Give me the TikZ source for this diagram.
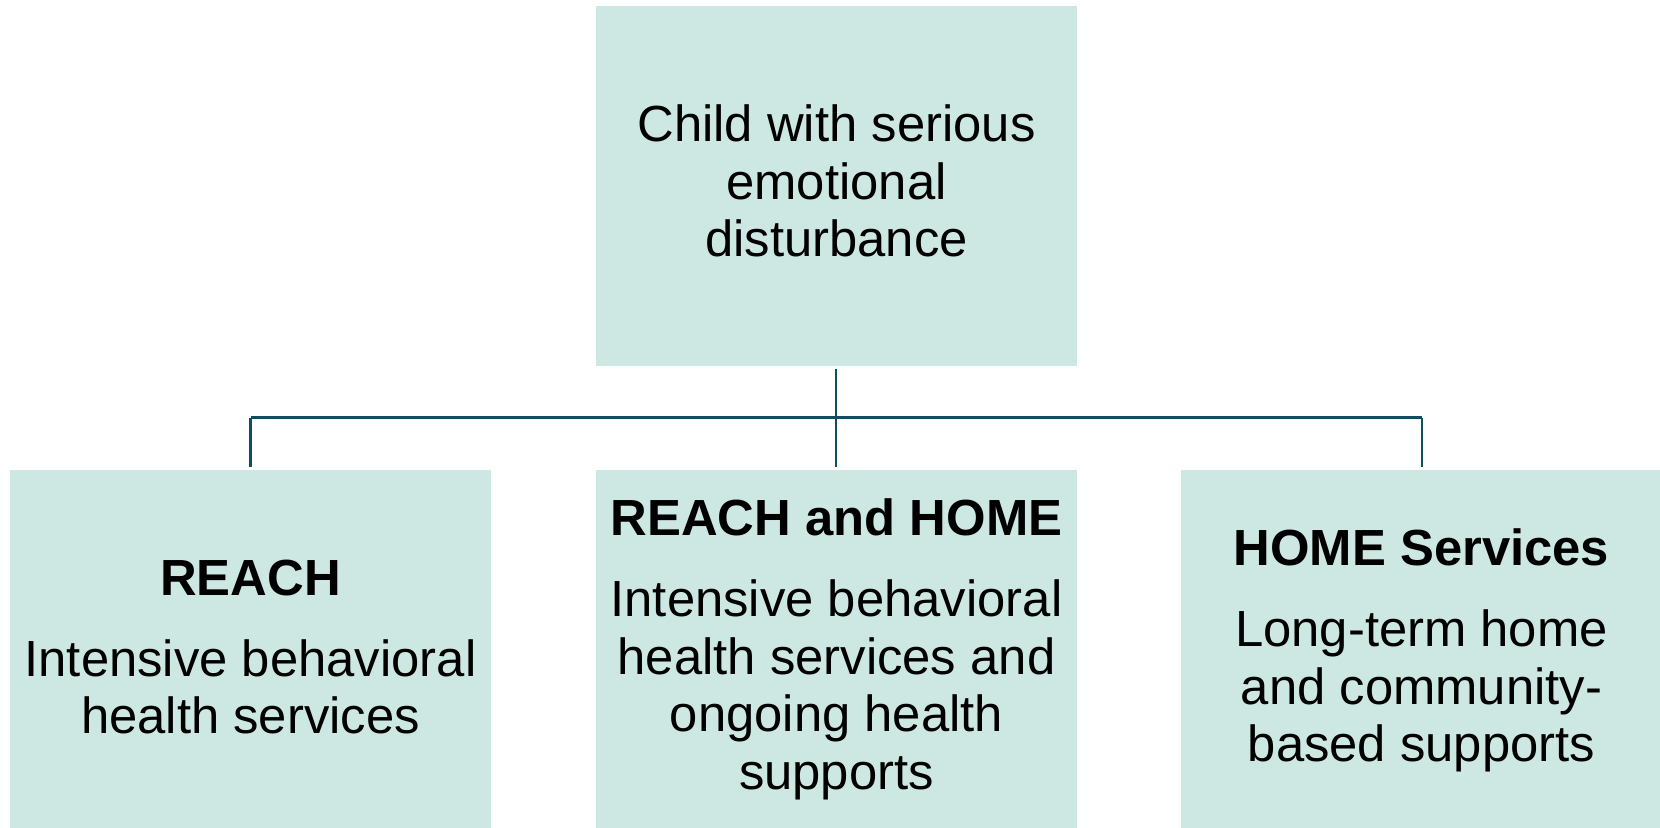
\documentclass[tikz,border=0pt]{standalone}
\usepackage{fontspec}
\setmainfont{Liberation Sans}
\definecolor{boxfill}{HTML}{CDE8E2}
\definecolor{linecol}{HTML}{0E4F5F}
\begin{document}
\begin{tikzpicture}[x=0.5pt,y=-0.5pt,
  box/.style={fill=boxfill,draw=none,minimum width=240.5pt,inner sep=0pt,anchor=north west},
  lbl/.style={anchor=base,inner sep=0pt,align=center,font=\fontsize{25.4pt}{28.75pt}\selectfont},
  ttl/.style={lbl,font=\fontsize{25.4pt}{28.75pt}\selectfont\bfseries},
  conn/.style={draw=linecol,line width=1.35pt}]
\useasboundingbox (0,0) rectangle (1660,827);
\begin{scope}
\clip (0,0) rectangle (1660,827);
\node[box,minimum height=179.85pt] (top) at (596,6) {};
\node[box,minimum height=180pt] (left) at (10,470) {};
\node[box,minimum height=180pt] (mid) at (596,470) {};
\node[box,minimum height=180pt] (right) at (1181,470) {};
\end{scope}
% anchors are at the baseline of the last line
\node[lbl] (toptxt) at (836.5,256.7) {Child with serious\\emotional\\disturbance};
\node[ttl] (lefttitle) at (250.5,595) {REACH};
\node[lbl] (lefttxt) at (250.5,733.5) {Intensive behavioral\\health services};
\node[ttl] (midtitle) at (836.5,535) {REACH and HOME};
\node[lbl] (midtxt) at (836.5,789.2) {Intensive behavioral\\health services and\\ongoing health\\supports};
\node[ttl] (righttitle) at (1421.5,565) {HOME Services};
\node[lbl] (righttxt) at (1421.5,761.7) {Long-term home\\and community-\\based supports};
\coordinate (hub) at (836,417.5);
\draw[conn] ([yshift=-1pt]top.south -| hub) -- (hub);
\draw[conn] (250.5,417.5) coordinate (lhub) -- (1422,417.5) coordinate (rhub);
\draw[conn] (lhub) -- ([yshift=1.6pt]lhub |- left.north);
\draw[conn] (hub) -- ([yshift=1.6pt]hub |- mid.north);
\draw[conn] (rhub) -- ([yshift=1.6pt]rhub |- right.north);
\end{tikzpicture}
\end{document}
